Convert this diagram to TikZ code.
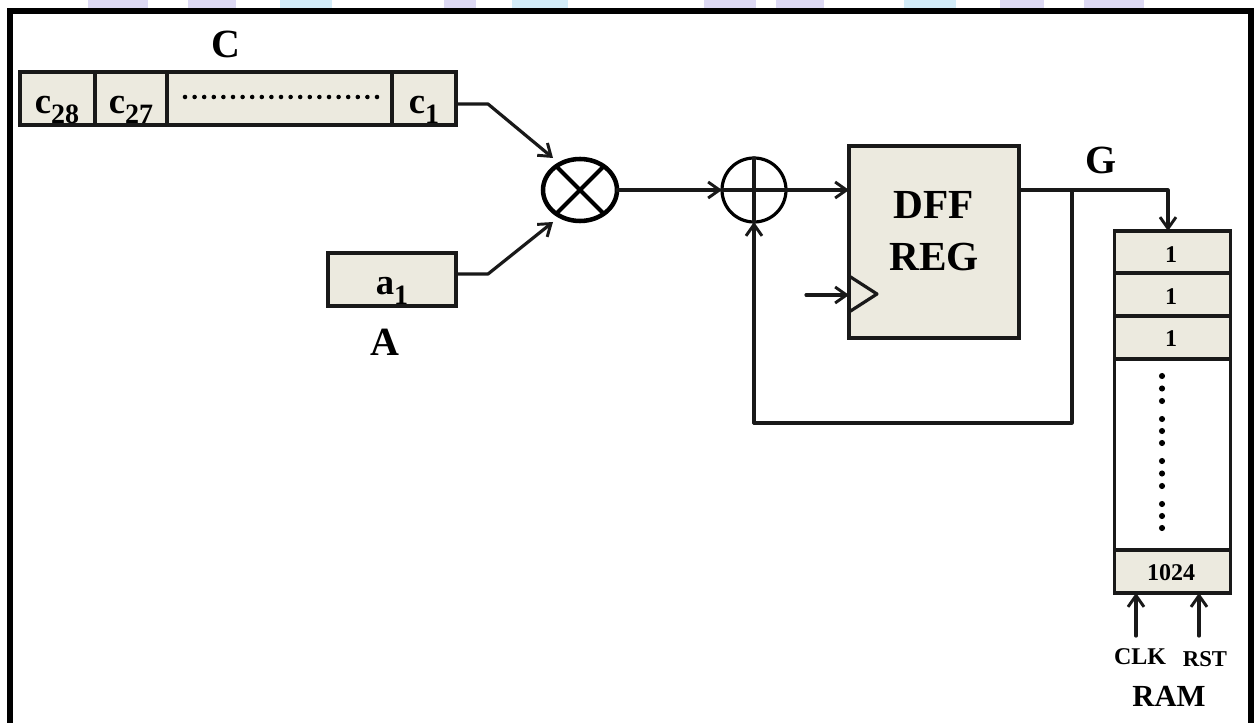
\documentclass[tikz,border=0pt]{standalone}
\usepackage{fontspec}
\setmainfont{Liberation Serif}
\usetikzlibrary{shapes.geometric,arrows.meta}
\definecolor{cellfill}{HTML}{ECEADF}
\definecolor{lav}{HTML}{DDD9F3}
\definecolor{pale}{HTML}{D3ECF8}
\tikzset{
  x=0.75pt,y=-0.75pt,
  wire/.style={line width=2.4pt,black!90,line cap=round,line join=round},
  arrowwire/.style={wire,-{Straight Barb[length=8.5pt,width=12pt,line width=2.2pt]}},
  cellbox/.style={draw=black!90,line width=2.3pt,fill=cellfill,inner sep=0pt,outer sep=0pt,rectangle},
  plainbox/.style={draw=black!90,line width=2.3pt,inner sep=0pt,outer sep=0pt,rectangle},
  wh/.style 2 args={minimum width=#1*0.75pt,minimum height=#2*0.75pt},
  ringthick/.style={ellipse,draw=black,line width=3.4pt,minimum width=74*0.75pt,minimum height=62*0.75pt,inner sep=0pt,outer sep=0pt},
  ringthin/.style={ellipse,draw=black,line width=2.4pt,minimum width=64*0.75pt,minimum height=64*0.75pt,inner sep=0pt,outer sep=0pt},
  lab/.style={inner sep=0pt,outer sep=0pt,text=black},
}
\begin{document}
\begin{tikzpicture}
\useasboundingbox (0,0) rectangle (1255,723);
% faint top strip
\fill[lav] (88,0) rectangle (148,8);
\fill[lav] (188,0) rectangle (236,8);
\fill[pale] (280,0) rectangle (332,8);
\fill[lav] (444,0) rectangle (476,8);
\fill[pale] (512,0) rectangle (568,8);
\fill[lav] (704,0) rectangle (756,8);
\fill[lav] (776,0) rectangle (824,8);
\fill[pale] (904,0) rectangle (956,8);
\fill[lav] (1000,0) rectangle (1044,8);
\fill[lav] (1084,0) rectangle (1144,8);
% frame
\draw[line width=4.5pt,black] (10,723) -- (10,11) -- (1251,11) -- (1251,723);
% C register
\node[cellbox,wh={75}{53}] (c28) at (57.5,98.5) {};
\node[cellbox,wh={72}{53}] (c27) at (131,98.5) {};
\node[cellbox,wh={225}{53}] (cdots) at (279.5,98.5) {};
\node[cellbox,wh={64}{53}] (c1) at (424,98.5) {};
\node[lab,font=\bfseries\fontsize{27.5pt}{30pt}\selectfont] (c28t) at (57,110) {c\raisebox{-8pt}{\fontsize{21pt}{21pt}\selectfont 28}};
\node[lab,font=\bfseries\fontsize{27.5pt}{30pt}\selectfont] (c27t) at (131,110) {c\raisebox{-8pt}{\fontsize{21pt}{21pt}\selectfont 27}};
\node[lab,font=\bfseries\fontsize{27.5pt}{30pt}\selectfont] (c1t) at (424,110) {c\raisebox{-8pt}{\fontsize{21pt}{21pt}\selectfont 1}};
\foreach \i in {0,...,20} \fill (185+\i*9.6,97) circle[radius=1.7pt];
\node[lab,font=\bfseries\fontsize{30pt}{32pt}\selectfont] (clabel) at (226,44) {C};
% A register
\node[cellbox,wh={128}{53}] (abox) at (392,279.5) {};
\node[lab,font=\bfseries\fontsize{27.5pt}{30pt}\selectfont] (a1t) at (392,291) {a\raisebox{-8pt}{\fontsize{21pt}{21pt}\selectfont 1}};
\node[lab,font=\bfseries\fontsize{30pt}{32pt}\selectfont] (alabel) at (385,342) {A};
% multiplier
\node[ringthick] (mult) at (580,190) {};
\draw[line width=3pt] (mult.45) -- (mult.225) (mult.135) -- (mult.315);
\coordinate (multa) at (553,158);
\coordinate (multb) at (553,222);
% adder
\node[ringthin] (add) at (754,190) {};
\draw[wire] (add.north) -- (add.south) (add.west) -- (add.east);
% DFF
\node[cellbox,wh={170}{192}] (dff) at (934,242) {};
\node[lab,font=\bfseries\fontsize{31pt}{33pt}\selectfont] (dfft) at (934,205) {DFF};
\node[lab,font=\bfseries\fontsize{31pt}{33pt}\selectfont] (regt) at (934,257) {REG};
\coordinate (clktop) at (849,276);
\coordinate (clktip) at (877,294);
\coordinate (clkbot) at (849,312);
\coordinate (clkin) at (806,295);
\draw[wire] (clktop) -- (clktip) -- (clkbot);
\draw[arrowwire] (clkin) -- (clkin -| dff.west);
% RAM
\node[plainbox,wh={116}{362}] (ram) at (1172.5,412) {};
\node[cellbox,wh={116}{42}] (r1) at (1172.5,252) {};
\node[cellbox,wh={116}{43}] (r2) at (1172.5,294.5) {};
\node[cellbox,wh={116}{43}] (r3) at (1172.5,337.5) {};
\node[cellbox,wh={116}{43}] (r4) at (1172.5,571.5) {};
\node[lab,font=\bfseries\fontsize{18pt}{20pt}\selectfont] (t1) at (1171,255) {1};
\node[lab,font=\bfseries\fontsize{18pt}{20pt}\selectfont] (t2) at (1171,297) {1};
\node[lab,font=\bfseries\fontsize{18pt}{20pt}\selectfont] (t3) at (1171,339) {1};
\node[lab,font=\bfseries\fontsize{18pt}{20pt}\selectfont] (t4) at (1171,573) {1024};
\foreach \y in {376,388.5,401,419,431,443,461,473.5,486,504,516,528} \fill (1162,\y) circle[radius=2.3pt];
\node[lab,font=\bfseries\fontsize{18pt}{20pt}\selectfont] (clk) at (1140,657) {CLK};
\node[lab,font=\bfseries\fontsize{17pt}{20pt}\selectfont] (rst) at (1205,659) {RST};
\node[lab,font=\bfseries\fontsize{23pt}{25pt}\selectfont] (ramt) at (1169,696) {RAM};
\coordinate (clkfoot) at (1136,636);
\coordinate (rstfoot) at (1199,636);
\draw[arrowwire] (clkfoot) -- (clkfoot |- ram.south);
\draw[arrowwire] (rstfoot) -- (rstfoot |- ram.south);
% connectors
\coordinate (c1out) at (456,104);
\coordinate (c1bend) at (488,104);
\coordinate (a1out) at (456,274);
\coordinate (a1bend) at (488,274);
\draw[arrowwire] (c1out) -- (c1bend) -- (multa);
\draw[arrowwire] (a1out) -- (a1bend) -- (multb);
\draw[arrowwire] (mult.east) -- (add.west);
\draw[arrowwire] (add.east) -- (add.east -| dff.west);
\coordinate (gbend) at (1168,190);
\coordinate (branch) at (1072,190);
\coordinate (fbcorner) at (1072,423);
\coordinate (fbleft) at (754,423);
\draw[arrowwire] (dff.east |- gbend) -- (gbend) -- (gbend |- ram.north);
\draw[wire] (branch) -- (fbcorner) -- (fbleft);
\draw[arrowwire] (fbleft) -- (add.south);
\node[lab,font=\bfseries\fontsize{30pt}{32pt}\selectfont] (glabel) at (1101,160) {G};
\end{tikzpicture}
\end{document}
